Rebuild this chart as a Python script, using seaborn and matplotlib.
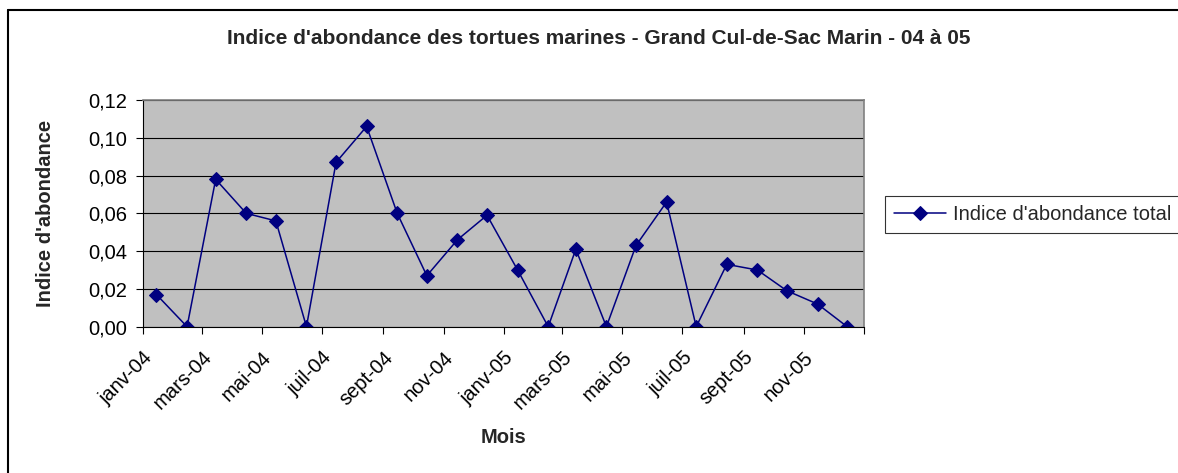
import matplotlib
matplotlib.use("Agg")
import matplotlib.pyplot as plt
from matplotlib.lines import Line2D
from matplotlib.ticker import FuncFormatter
import pandas as pd
import seaborn as sns

# one value per month, Jan 2004 - Dec 2005 (sampled mid-month)
mois_fr = ["janv", "févr", "mars", "avr", "mai", "juin",
           "juil", "août", "sept", "oct", "nov", "déc"]
indice = [0.017, 0.000, 0.078, 0.060, 0.056, 0.000,
          0.087, 0.106, 0.060, 0.027, 0.046, 0.059,
          0.030, 0.000, 0.041, 0.000, 0.043, 0.066,
          0.000, 0.033, 0.030, 0.019, 0.012, 0.000]
serie = "Indice d'abondance total"

dates = pd.date_range("2004-01-01", periods=len(indice), freq="MS") + pd.Timedelta(days=14)
df = pd.DataFrame({"date": dates, "indice": indice})

sns.set_style("white")
plt.rcParams["font.family"] = ["Liberation Sans", "DejaVu Sans"]

fig = plt.figure(figsize=(11.78, 4.73), dpi=100)
ax = fig.add_axes([0.1211, 0.3093, 0.7334 - 0.1211, 0.7886 - 0.3093])
ax.set_facecolor("#C0C0C0")

sns.lineplot(data=df, x="date", y="indice", ax=ax, color="#000080",
             marker="D", markersize=6.8, markeredgecolor="#000080",
             linewidth=1.1, label=serie)

ax.set_ylim(0, 0.12)
ax.set_yticks([0, 0.02, 0.04, 0.06, 0.08, 0.10, 0.12])
ax.yaxis.set_major_formatter(FuncFormatter(lambda v, p: f"{v:.2f}".replace(".", ",")))
ax.grid(True, axis="y", color="black", linewidth=0.8)
ax.set_axisbelow(True)

tick_dates = pd.date_range("2004-01-01", "2006-01-01", freq="2MS")
tick_labels = [f"{mois_fr[d.month - 1]}-{d.strftime('%y')}" for d in tick_dates[:-1]] + [""]
ax.set_xlim(tick_dates[0], tick_dates[-1])
ax.set_xticks(tick_dates)
ax.set_xticklabels(tick_labels, rotation=45, ha="right", va="top",
                   rotation_mode="anchor")

ax.tick_params(axis="both", direction="out", length=5, width=0.8,
               colors="black", labelsize=14.5, bottom=True, left=True)
ax.tick_params(axis="y", pad=6)
ax.tick_params(axis="x", pad=10)

for side in ["top", "right"]:
    ax.spines[side].set_color("#808080")
    ax.spines[side].set_linewidth(1.2)
for side in ["left", "bottom"]:
    ax.spines[side].set_color("black")
    ax.spines[side].set_linewidth(0.8)

ax.set_xlabel("Mois", fontsize=14.5, fontweight="bold", labelpad=11)
ax.set_ylabel("Indice d'abondance", fontsize=14.5, fontweight="bold", labelpad=24)

fig.text(0.508, 1 - 38 / 473,
         "Indice d'abondance des tortues marines - Grand Cul-de-Sac Marin - 04 à 05",
         ha="center", va="center", fontsize=15, fontweight="bold")

leg = ax.legend(loc="upper left", bbox_to_anchor=(885 / 1178, 1 - 196 / 473),
                bbox_transform=fig.transFigure, fontsize=14.5, frameon=True,
                fancybox=False, handlelength=2.6, borderpad=0.45,
                borderaxespad=0, handletextpad=0.35)
leg.get_frame().set_edgecolor("black")
leg.get_frame().set_linewidth(0.8)

# chart frame (top and left edges visible)
fig.add_artist(Line2D([8 / 1178, 1], [1 - 10 / 473] * 2, color="black",
                      linewidth=1.5, transform=fig.transFigure))
fig.add_artist(Line2D([8 / 1178] * 2, [0, 1 - 10 / 473], color="black",
                      linewidth=1.5, transform=fig.transFigure))

fig.savefig("out.png", dpi=100)
